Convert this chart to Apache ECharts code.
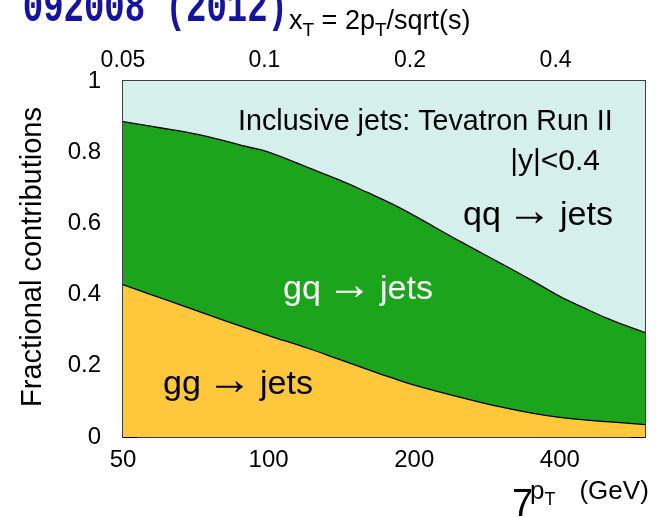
<!DOCTYPE html>
<html><head><meta charset="utf-8">
<script src="https://cdn.jsdelivr.net/npm/echarts@6/dist/echarts.min.js"></script>
<style>html,body{margin:0;padding:0;background:#fff}#c{width:656px;height:517px}</style>
</head><body><div id="c"></div>
<script>
// ---- data ----
const pT = [50,60,70,80,90,100,120,140,160,180,200,250,300,350,400,450,500,550,600];
const ggFrac = [0.428,0.390,0.358,0.330,0.306,0.285,0.250,0.218,0.190,0.166,0.146,0.111,0.085,0.067,0.055,0.048,0.043,0.039,0.035];
const ggPlusGqFrac = [0.886,0.868,0.852,0.834,0.816,0.800,0.758,0.722,0.687,0.655,0.622,0.548,0.490,0.440,0.395,0.362,0.334,0.312,0.293];
const xTickLabels = [50,100,200,400];
const xMajorTicks = [100,200,400];
const xMinorTicks = [60,70,80,90,300,500];
const xTTickLabels = [0.05,0.1,0.2,0.4];
const xTMajorTicks = [0.1,0.2,0.4];
const xTMinorTicks = [0.06,0.07,0.08,0.09,0.3,0.5,0.6];
const sqrtS = 1960;
const pTmin = 50, pTmax = 600;

const FONT = '"Liberation Sans", Arial, Helvetica, sans-serif';
const L = Math.log10;
const xMin = L(pTmin), xMax = L(pTmax);
const xTtoLog = x => Math.max(L(x * sqrtS / 2), xMin);

// cumulative tops: gg, gg+gq, gg+gq+qq (=1)
const gqFrac = ggPlusGqFrac.map((v, i) => v - ggFrac[i]);
const qqFrac = ggPlusGqFrac.map(v => 1 - v);
const ggTop = ggFrac.slice();
const gqTop = ggTop.map((v, i) => v + gqFrac[i]);
const qqTop = gqTop.map((v, i) => v + qqFrac[i]);
const pts = arr => arr.map((v, i) => [L(pT[i]), v]);

const black = '#000';
function xAxisBase(pos) {
  return { type: 'value', position: pos, min: xMin, max: xMax, splitLine: { show: false } };
}
function procLabel(x0, y, color, name) {
  const t = (dx, dy, txt, size) => ({ type: 'text', x: x0 + dx, y: y + dy, z: 100,
    style: { text: txt, align: 'left', verticalAlign: 'middle', font: size + 'px ' + FONT, fill: color } });
  return [t(0, 0, name, 34), t(44, -3, '\u2192', 45), t(97, 0, 'jets', 34)];
}
const chart = echarts.init(document.getElementById('c'), null, { renderer: 'canvas' });
chart.setOption({
  animation: false,
  backgroundColor: '#fff',
  grid: { left: 123, right: 11, top: 81, bottom: 80, containLabel: false },
  xAxis: [
    Object.assign(xAxisBase('bottom'), {
      axisLine: { show: true, lineStyle: { color: black, width: 1.5 } },
      axisTick: { show: true, inside: true, length: 14, customValues: xMajorTicks.map(L), lineStyle: { color: black, width: 1 } },
      axisLabel: { show: true, customValues: xTickLabels.map(L), formatter: v => String(Math.round(Math.pow(10, v))),
        color: black, fontSize: 24, fontFamily: FONT, margin: 11 }
    }),
    Object.assign(xAxisBase('bottom'), {
      axisLine: { show: false },
      axisTick: { show: true, inside: true, length: 7, customValues: xMinorTicks.map(L), lineStyle: { color: black, width: 1 } },
      axisLabel: { show: false }
    }),
    Object.assign(xAxisBase('top'), {
      axisLine: { show: true, lineStyle: { color: black, width: 1.5 } },
      axisTick: { show: true, inside: true, length: 14, customValues: xTMajorTicks.map(xTtoLog), lineStyle: { color: black, width: 1 } },
      axisLabel: { show: true, customValues: xTTickLabels.map(xTtoLog),
        formatter: v => String(+(2 * Math.pow(10, v) / sqrtS).toPrecision(1)),
        color: black, fontSize: 23, fontFamily: FONT, margin: 9 }
    }),
    Object.assign(xAxisBase('top'), {
      axisLine: { show: false },
      axisTick: { show: true, inside: true, length: 7, customValues: xTMinorTicks.map(xTtoLog), lineStyle: { color: black, width: 1 } },
      axisLabel: { show: false }
    })
  ],
  yAxis: [
    {
      type: 'value', position: 'left', min: 0, max: 1, interval: 0.2,
      axisLine: { show: true, lineStyle: { color: black, width: 1.5 } },
      axisTick: { show: true, inside: true, length: 14, lineStyle: { color: black, width: 1 } },
      minorTick: { show: true, splitNumber: 4, length: 7, lineStyle: { color: black, width: 1 } },
      axisLabel: { color: black, fontSize: 24, fontFamily: FONT, margin: 22, formatter: v => String(+v.toFixed(1)) },
      splitLine: { show: false }, minorSplitLine: { show: false }
    },
    {
      type: 'value', position: 'right', min: 0, max: 1, interval: 0.2,
      axisLine: { show: true, lineStyle: { color: black, width: 1.5 } },
      axisTick: { show: true, inside: true, length: 14, lineStyle: { color: black, width: 1 } },
      minorTick: { show: true, splitNumber: 4, length: 7, lineStyle: { color: black, width: 1 } },
      axisLabel: { show: false },
      splitLine: { show: false }, minorSplitLine: { show: false }
    }
  ],
  series: [
    { name: 'qq', type: 'line', data: pts(qqTop), smooth: 0.4, showSymbol: false, silent: true,
      lineStyle: { width: 0 }, areaStyle: { color: '#D5EFED', opacity: 1 }, z: 1 },
    { name: 'gq', type: 'line', data: pts(gqTop), smooth: 0.4, showSymbol: false, silent: true,
      lineStyle: { color: black, width: 1.3 }, areaStyle: { color: '#1CA51C', opacity: 1 }, z: 2 },
    { name: 'gg', type: 'line', data: pts(ggTop), smooth: 0.4, showSymbol: false, silent: true,
      lineStyle: { color: black, width: 1.3 }, areaStyle: { color: '#FEC73C', opacity: 1 }, z: 3 }
  ],
  graphic: [
    { type: 'text', x: 288, y: 32, scaleY: 1.35, originX: 0, originY: 0, z: 100, style: { text: '092008 (2012)', align: 'right', verticalAlign: 'bottom',
      font: 'bold 34px "Liberation Mono", "DejaVu Sans Mono", monospace', fill: '#1414A0' } },
    { type: 'text', x: 289, y: 24, z: 100, style: {
      text: '{a|x}{s|T}{a| = 2p}{s|T}{a|/sqrt(s)}', align: 'left', verticalAlign: 'middle',
      rich: { a: { fontSize: 27, fontFamily: FONT, fill: black, lineHeight: 32, verticalAlign: 'top' },
              s: { fontSize: 19, fontFamily: FONT, fill: black, lineHeight: 32, verticalAlign: 'bottom', padding: [15, 0, 0, 0] } } } },
    { type: 'text', x: 530, y: 494, z: 100, style: {
      text: '{a|p}{s|T}{g|(GeV)}', align: 'left', verticalAlign: 'middle',
      rich: { a: { fontSize: 26, fontFamily: FONT, fill: black, lineHeight: 30, verticalAlign: 'top' },
              s: { fontSize: 18, fontFamily: FONT, fill: black, lineHeight: 30, verticalAlign: 'bottom', padding: [14, 0, 0, 0] },
              g: { fontSize: 26, fontFamily: FONT, fill: black, lineHeight: 30, verticalAlign: 'top', padding: [0, 0, 0, 24] } } } },
    { type: 'text', x: 512, y: 506, z: 100, style: { text: '7', align: 'left', verticalAlign: 'middle', font: '38px ' + FONT, fill: black } },
    { type: 'text', x: 33, y: 257, rotation: Math.PI / 2, z: 100, style: { text: 'Fractional contributions', align: 'center', verticalAlign: 'middle', font: '29px ' + FONT, fill: black } },
    { type: 'text', x: 238, y: 122, z: 100, style: { text: 'Inclusive jets: Tevatron Run II', align: 'left', verticalAlign: 'middle', font: '28.7px ' + FONT, fill: black } },
    { type: 'text', x: 600, y: 162, z: 100, style: { text: '|y|<0.4', align: 'right', verticalAlign: 'middle', font: '30px ' + FONT, fill: black } }
  ].concat(procLabel(463, 216, black, 'qq'), procLabel(283, 290, '#fff', 'gq'), procLabel(163, 385, black, 'gg'))
});
</script>
</body></html>
